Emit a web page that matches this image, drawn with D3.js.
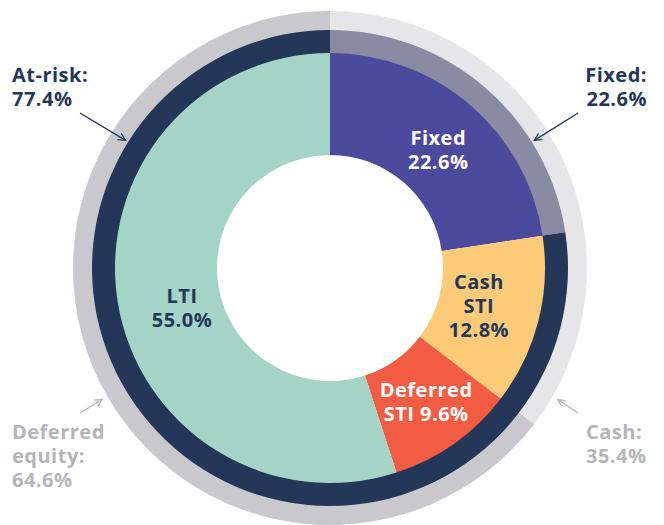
<!DOCTYPE html>
<html>
<head>
<meta charset="utf-8">
<script src="https://cdn.jsdelivr.net/npm/d3@7"></script>
<style>
  body { margin: 0; background: #fff; }
  svg text { font-family: "Open Sans", sans-serif; font-weight: 700; letter-spacing: 0.5px; }
</style>
</head>
<body>
<div id="chart"></div>
<script>
// pay mix, inner ring
var mixNames  = ["Fixed", "Cash STI", "Deferred STI", "LTI"];
var mixValues = [22.6, 12.8, 9.6, 55.0];
var mixLabels = [["Fixed", "22.6%"], ["Cash", "STI", "12.8%"], ["Deferred", "STI 9.6%"], ["LTI", "55.0%"]];

// middle ring
var riskNames  = ["Fixed", "At-risk"];
var riskValues = [22.6, 77.4];

// outer ring
var deliveryNames  = ["Cash", "Deferred equity"];
var deliveryValues = [35.4, 64.6];

var width = 664, height = 525,
    cx = 330, cy = 268;

var svg = d3.select("#chart").append("svg")
  .attr("width", width)
  .attr("height", height);

var g = svg.append("g").attr("transform", "translate(" + cx + "," + cy + ")");

var pie = d3.pie().sort(null).value(function(d) { return d; });

var navy = "#253758";

function ring(values, colors, r0, r1) {
  var arc = d3.arc().innerRadius(r0).outerRadius(r1);
  var grp = g.append("g");
  grp.selectAll("path")
    .data(pie(values))
    .enter().append("path")
    .attr("d", arc)
    .attr("fill", function(d, i) { return colors[i]; });
  return arc;
}

ring(deliveryValues, ["#e6e6e8", "#c8c8cd"], 237, 257);
ring(riskValues, ["#8a8aa3", navy], 214, 238);
ring(mixValues, ["#4b4a9c", "#fccb78", "#f15c42", "#a4d4c6"], 113, 215);

// inner labels
var labelArc = d3.arc().innerRadius(163).outerRadius(163);
var labelColor = ["#fff", navy, "#fff", navy];
var labelShift = [[2, 6], [-9, -3], [2, 1], [13, 15]];

pie(mixValues).forEach(function(d, i) {
  var c = labelArc.centroid(d);
  var lines = mixLabels[i];
  var t = g.append("text")
    .attr("text-anchor", "middle")
    .attr("font-size", 20)
    .attr("fill", labelColor[i]);
  lines.forEach(function(s, j) {
    t.append("tspan")
      .attr("x", c[0] + labelShift[i][0])
      .attr("y", c[1] + labelShift[i][1] + (j - (lines.length - 1) / 2) * 24 + 7)
      .text(s);
  });
});

// arrow heads
var defs = svg.append("defs");
[["navyArrow", navy], ["greyArrow", "#b4b4b9"]].forEach(function(m) {
  defs.append("marker")
    .attr("id", m[0])
    .attr("viewBox", "0 0 10 10")
    .attr("refX", 9).attr("refY", 5)
    .attr("markerWidth", 9).attr("markerHeight", 9)
    .attr("markerUnits", "userSpaceOnUse")
    .attr("orient", "auto")
    .append("path")
    .attr("d", "M1,1 L9,5 L1,9")
    .attr("fill", "none")
    .attr("stroke", m[1])
    .attr("stroke-width", 1.4);
});

// outside annotations
var notes = [
  { lines: ["At-risk:", "77.4%"], x: 12, y: 82, anchor: "start", color: navy, marker: "navyArrow",
    from: [80, 113], angle: -58, r: 241 },
  { lines: ["Fixed:", "22.6%"], x: 647, y: 82, anchor: "end", color: navy, marker: "navyArrow",
    from: [578, 113], angle: 58, r: 241 },
  { lines: ["Deferred", "equity:", "64.6%"], x: 12, y: 439, anchor: "start", color: "#b4b4b9", marker: "greyArrow",
    from: [80, 413], angle: -120, r: 263 },
  { lines: ["Cash:", "35.4%"], x: 586, y: 439, anchor: "start", color: "#b4b4b9", marker: "greyArrow",
    from: [578, 413], angle: 120, r: 263 }
];

notes.forEach(function(n) {
  var t = svg.append("text")
    .attr("font-size", 20)
    .attr("fill", n.color)
    .attr("text-anchor", n.anchor);
  n.lines.forEach(function(s, j) {
    t.append("tspan").attr("x", n.x).attr("y", n.y + j * 24).text(s);
  });
  var tip = d3.pointRadial(n.angle * Math.PI / 180, n.r);
  svg.append("line")
    .attr("x1", n.from[0]).attr("y1", n.from[1])
    .attr("x2", cx + tip[0]).attr("y2", cy + tip[1])
    .attr("stroke", n.color)
    .attr("stroke-width", 1.4)
    .attr("marker-end", "url(#" + n.marker + ")");
});
</script>
</body>
</html>
